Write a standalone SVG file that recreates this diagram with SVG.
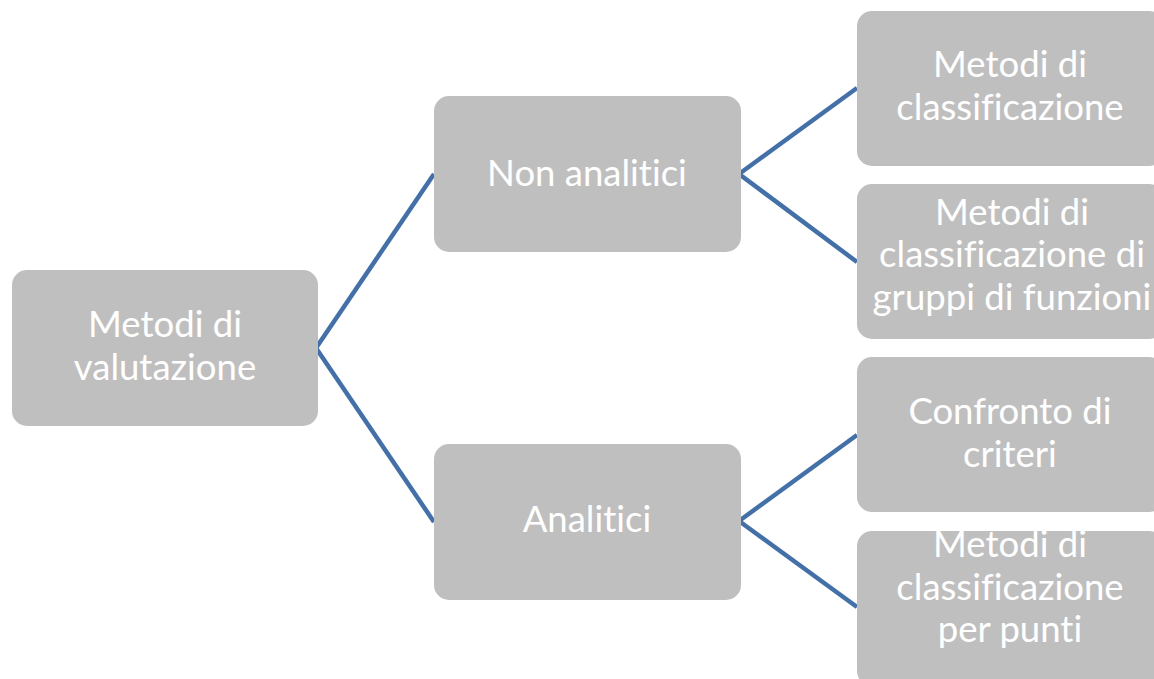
<svg xmlns="http://www.w3.org/2000/svg" width="1154" height="679" viewBox="0 0 1154 679">
<style>
.box{fill:#bfbfbf;}
.t{font-family:Lato,"Open Sans",sans-serif;font-size:36.5px;fill:#ffffff;text-anchor:middle;font-variant-ligatures:none;}
.c{stroke:#4470a8;stroke-width:4.5;fill:none;}
</style>
<rect width="1154" height="679" fill="#ffffff"/>
<g id="connectors">
<path class="c" d="M316 348 L434 174"/>
<path class="c" d="M316 348 L434 522"/>
<path class="c" d="M739 174 L857 88"/>
<path class="c" d="M739 174 L857 262"/>
<path class="c" d="M739 521 L857 435"/>
<path class="c" d="M739 521 L857 607"/>
</g>
<g id="root">
<rect class="box" x="12" y="270" width="306" height="156" rx="15"/>
<text class="t" x="165" y="337">Metodi di</text>
<text class="t" x="165" y="380">valutazione</text>
</g>
<g id="non-analitici">
<rect class="box" x="434" y="96" width="307" height="156" rx="15"/>
<text class="t" x="587" y="186">Non analitici</text>
</g>
<g id="analitici">
<rect class="box" x="434" y="444" width="307" height="156" rx="15"/>
<text class="t" x="587" y="532">Analitici</text>
</g>
<g id="metodi-classificazione">
<rect class="box" x="857" y="11" width="307" height="155" rx="15"/>
<text class="t" x="1010" y="77">Metodi di</text>
<text class="t" x="1010" y="120">classificazione</text>
</g>
<g id="metodi-gruppi">
<rect class="box" x="857" y="184" width="307" height="155" rx="15"/>
<text class="t" x="1012" y="225">Metodi di</text>
<text class="t" x="1012" y="267">classificazione di</text>
<text class="t" x="1012" y="310">gruppi di funzioni</text>
</g>
<g id="confronto-criteri">
<rect class="box" x="857" y="357" width="307" height="155" rx="15"/>
<text class="t" x="1010" y="424">Confronto di</text>
<text class="t" x="1010" y="467">criteri</text>
</g>
<g id="metodi-punti">
<rect class="box" x="857" y="531" width="307" height="155" rx="15"/>
<text class="t" x="1010" y="557">Metodi di</text>
<text class="t" x="1010" y="600">classificazione</text>
<text class="t" x="1010" y="642">per punti</text>
</g>
</svg>
